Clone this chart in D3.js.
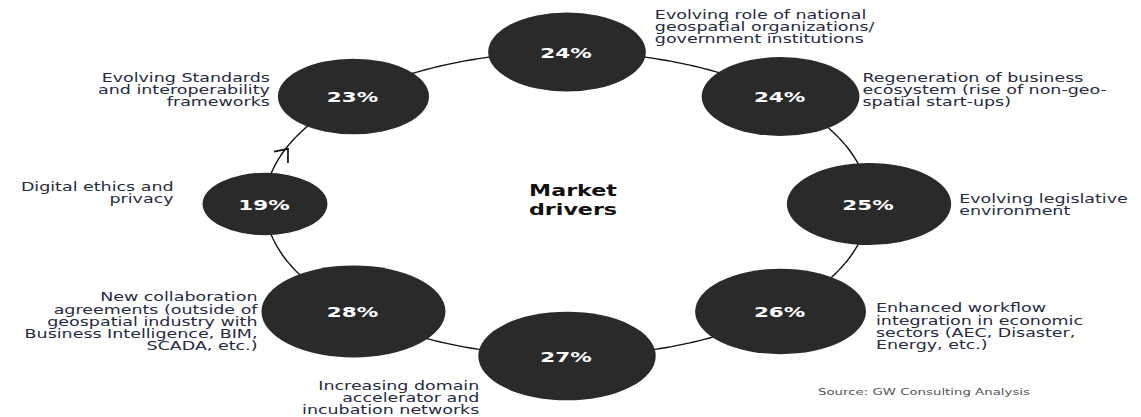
<!DOCTYPE html>
<html>
<head>
<meta charset="utf-8">
<script src="https://cdn.jsdelivr.net/npm/d3@7"></script>
<style>
  html, body { margin: 0; padding: 0; background: #fff; }
  svg { display: block; }
</style>
</head>
<body>
<div id="app"></div>
<script>
// market drivers, clockwise from the top
const shares = [24, 24, 25, 26, 27, 28, 19, 23];
const driverLines = [
  ['Evolving role of national', 'geospatial organizations/', 'government institutions'],
  ['Regeneration of business', 'ecosystem (rise of non-geo-', 'spatial start-ups)'],
  ['Evolving legislative', 'environment'],
  ['Enhanced workflow', 'integration in economic', 'sectors (AEC, Disaster,', 'Energy, etc.)'],
  ['Increasing domain', 'accelerator and', 'incubation networks'],
  ['New collaboration', 'agreements (outside of', 'geospatial industry with', 'Business Intelligence, BIM,', 'SCADA, etc.)'],
  ['Digital ethics and', 'privacy'],
  ['Evolving Standards', 'and interoperability', 'frameworks']
];
const centreTitle = ['Market', 'drivers'];
const sourceNote = 'Source: GW Consulting Analysis';

// label placement: side, gap from bubble edge, first baseline offset
const labelLayout = [
  { side: 'right', gap: 9,  dy: -33 },
  { side: 'right', gap: 3,  dy: -15 },
  { side: 'right', gap: 8,  dy: -1 },
  { side: 'right', gap: 10, dy: 1 },
  { side: 'left',  gap: -1, dy: 34 },
  { side: 'left',  gap: 4,  dy: -10 },
  { side: 'left',  gap: 29, dy: -13 },
  { side: 'left',  gap: 8,  dy: -15 }
];

const width = 1141;
const height = 417;
const ring = { cx: 567, cy: 204, rx: 302, ry: 152 };
const stretch = 1.48;   // the source art is wide-set
const lineH = 12.2;
const textFont = '"DejaVu Sans", sans-serif';

const svg = d3.select('#app').append('svg')
  .attr('width', width)
  .attr('height', height);

const angle = d3.scaleLinear().domain([0, shares.length]).range([0, 2 * Math.PI]);
const rScale = d3.scaleLinear().domain([0, 28]).range([0, 92]);

const pos = t => [ring.cx + ring.rx * Math.sin(t), ring.cy - ring.ry * Math.cos(t)];

const nodes = shares.map((v, i) => {
  const [x, y] = pos(angle(i));
  return { v, i, x, y, rx: rScale(v), ry: rScale(v) / 2 };
});

// ring line
const ringPts = d3.range(0, 361).map(d => pos(d * Math.PI / 180));
svg.append('path')
  .attr('d', d3.line()(ringPts) + 'Z')
  .attr('fill', 'none')
  .attr('stroke', '#111')
  .attr('stroke-width', 1.4);

// arrow between 19% and 23%
const ta = angle(6.5);
const [ax, ay] = pos(ta);
const dir = Math.atan2(ring.ry * Math.sin(ta), ring.rx * Math.cos(ta)) * 180 / Math.PI;
svg.append('path')
  .attr('transform', `translate(${ax},${ay + 3}) rotate(${dir})`)
  .attr('d', 'M-11,-9L0,0L-11,9')
  .attr('fill', 'none')
  .attr('stroke', '#111')
  .attr('stroke-width', 1.7);

// bubbles
const bubble = svg.append('g').selectAll('g')
  .data(nodes)
  .join('g')
  .attr('transform', d => `translate(${d.x},${d.y})`);

bubble.append('ellipse')
  .attr('rx', d => d.rx)
  .attr('ry', d => d.ry)
  .attr('fill', '#2a2a2a');

bubble.append('text')
  .attr('transform', `translate(-1,5.5) scale(${stretch},1)`)
  .attr('text-anchor', 'middle')
  .attr('font-family', textFont)
  .attr('font-weight', 'bold')
  .attr('font-size', 14.5)
  .attr('fill', '#fff')
  .text(d => `${d.v}%`);

// driver labels
nodes.forEach(d => {
  const lay = labelLayout[d.i];
  const right = lay.side === 'right';
  const x = right ? d.x + d.rx + lay.gap : d.x - d.rx - lay.gap;
  const y = d.y + lay.dy;
  const t = svg.append('text')
    .attr('transform', `translate(${x},${y}) scale(${stretch},1)`)
    .attr('text-anchor', right ? 'start' : 'end')
    .attr('font-family', textFont)
    .attr('font-size', 11.8)
    .attr('fill', '#262b40');
  t.selectAll('tspan')
    .data(driverLines[d.i])
    .join('tspan')
    .attr('x', 0)
    .attr('y', (_, k) => k * lineH)
    .text(s => s);
});

// centre title
svg.append('text')
  .attr('transform', `translate(${ring.cx + 6},196) scale(${stretch},1)`)
  .attr('text-anchor', 'middle')
  .attr('font-family', textFont)
  .attr('font-weight', 'bold')
  .attr('font-size', 15)
  .attr('fill', '#111')
  .selectAll('tspan')
  .data(centreTitle)
  .join('tspan')
  .attr('x', 0)
  .attr('y', (_, k) => k * 19)
  .text(s => s);

// source
svg.append('text')
  .attr('transform', `translate(818,395) scale(${stretch},1)`)
  .attr('font-family', textFont)
  .attr('font-size', 9)
  .attr('fill', '#555')
  .text(sourceNote);
</script>
</body>
</html>
